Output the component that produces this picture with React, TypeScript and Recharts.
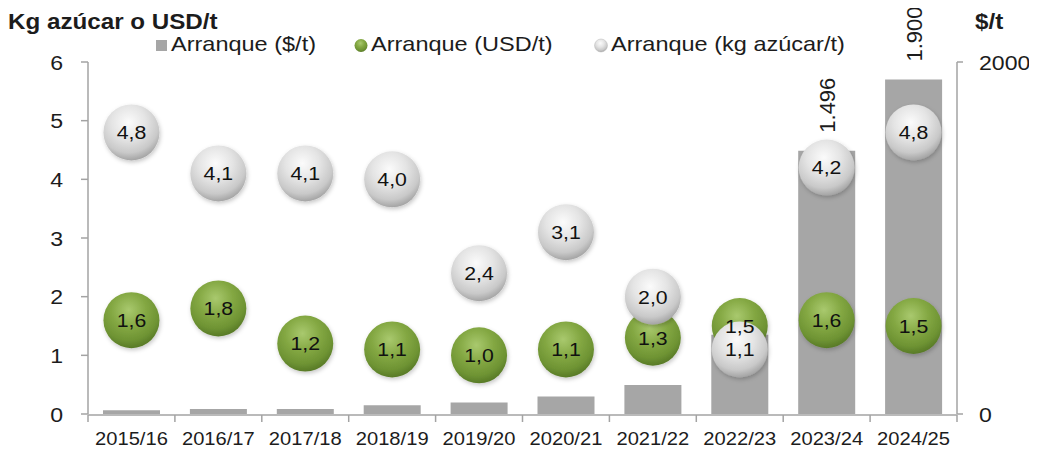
import React from 'react';
import { ComposedChart, Bar, Scatter, XAxis, YAxis, LabelList } from 'recharts';

const categories = ['2015/16', '2016/17', '2017/18', '2018/19', '2019/20', '2020/21', '2021/22', '2022/23', '2023/24', '2024/25'];
const arranquePesos = [22, 28, 28, 50, 65, 99, 165, 450, 1496, 1900];
const arranqueUSD = [1.6, 1.8, 1.2, 1.1, 1.0, 1.1, 1.3, 1.5, 1.6, 1.5];
const arranqueKg = [4.8, 4.1, 4.1, 4.0, 2.4, 3.1, 2.0, 1.1, 4.2, 4.8];
const pesosLabels = ['', '', '', '', '', '', '', '', '1.496', '1.900'];
const leftTicks = [0, 1, 2, 3, 4, 5, 6];
const rightTicks = [0, 2000];
const boundaryTicks = [0, 1, 2, 3, 4, 5, 6, 7, 8, 9, 10];

const data = categories.map((c, i) => ({
  cat: c,
  idx: i + 0.5,
  pesos: arranquePesos[i],
  usd: arranqueUSD[i],
  kg: arranqueKg[i],
}));

const FONT = '"Liberation Sans", Arial, sans-serif';
const AXIS = '#a3a3a3';
const TXT = '#1c1c1c';

const fmt = (v: number) => v.toFixed(1).replace('.', ',');

const XTick = (p: any) => (
  <g transform={`translate(${p.x},${p.y})`}>
    <text x={0} y={0} dy="0.71em" textAnchor="middle" transform="scale(1.12,1)" fontSize={18} fill={TXT} fontFamily={FONT}>
      {p.payload.value}
    </text>
  </g>
);

const LTick = (p: any) => (
  <g transform={`translate(${p.x},${p.y})`}>
    <text x={0} y={0} dy="0.36em" textAnchor="end" transform="scale(1.1,1)" fontSize={21} fill={TXT} fontFamily={FONT}>
      {p.payload.value}
    </text>
  </g>
);

const RTick = (p: any) => (
  <g transform={`translate(${p.x},${p.y})`}>
    <text x={0} y={0} dy="0.36em" textAnchor="start" transform="scale(1.1,1)" fontSize={21} fill={TXT} fontFamily={FONT}>
      {p.payload.value}
    </text>
  </g>
);

const BarLabel = (p: any) => {
  const t = pesosLabels[p.index];
  if (!t) return null;
  const cx = p.x + p.width / 2;
  const cy = p.y - 18;
  return (
    <text x={cx} y={cy} dy="0.36em" textAnchor="start" transform={`rotate(-90 ${cx} ${cy})`} fontSize={22} fill={TXT} fontFamily={FONT}>
      {t}
    </text>
  );
};

const bubble = (grad: string) => (p: any) => {
  if (p.cx == null || p.cy == null) return <g />;
  return (
    <g>
      <circle cx={p.cx} cy={p.cy} r={28} fill={grad} filter="url(#bShadow)" />
    </g>
  );
};

const labelShape = (key: string) => (p: any) => {
  if (p.cx == null || p.cy == null) return <g />;
  const v = p.payload[key];
  return (
    <g transform={`translate(${p.cx},${p.cy})`}>
      <text x={0} y={0} dy="0.36em" textAnchor="middle" transform="scale(1.12,1)" fontSize={19} fill="#111" fontFamily={FONT}>
        {fmt(v)}
      </text>
    </g>
  );
};

export default function App() {
  return (
    <div style={{ position: 'relative', margin: '-8px', width: 1037, height: 453, background: '#fff', fontFamily: FONT }}>
      <svg width={0} height={0} style={{ position: 'absolute' }}>
        <defs>
          <radialGradient id="gGreen" cx="45%" cy="32%" r="68%">
            <stop offset="0%" stopColor="#a9c96e" />
            <stop offset="45%" stopColor="#84a843" />
            <stop offset="80%" stopColor="#6e9333" />
            <stop offset="100%" stopColor="#587a27" />
          </radialGradient>
          <radialGradient id="gSilver" cx="45%" cy="32%" r="68%">
            <stop offset="0%" stopColor="#fbfbfb" />
            <stop offset="45%" stopColor="#e4e4e4" />
            <stop offset="80%" stopColor="#c9c9c9" />
            <stop offset="100%" stopColor="#a4a4a4" />
          </radialGradient>
          <filter id="bShadow" x="-30%" y="-30%" width="160%" height="160%">
            <feDropShadow dx="1" dy="2" stdDeviation="2" floodColor="#000" floodOpacity="0.22" />
          </filter>
        </defs>
      </svg>
      <ComposedChart width={1037} height={453} data={data} margin={{ top: 62, right: 20, bottom: 37, left: 28 }}>
        <XAxis
          xAxisId="grid"
          type="number"
          dataKey="idx"
          domain={[0, 10]}
          allowDataOverflow
          ticks={boundaryTicks}
          interval={0}
          height={1}
          tickSize={7}
          tickFormatter={() => ''}
          axisLine={{ stroke: AXIS, strokeWidth: 1.5 }}
          tickLine={{ stroke: AXIS, strokeWidth: 1.5 }}
        />
        <XAxis
          xAxisId="cat"
          dataKey="cat"
          type="category"
          height={1}
          interval={0}
          axisLine={false}
          tickLine={false}
          tickSize={0}
          tickMargin={18}
          tick={<XTick />}
        />
        <YAxis
          yAxisId="l"
          width={60}
          domain={[0, 6]}
          ticks={leftTicks}
          interval={0}
          tickSize={7}
          tickMargin={18}
          axisLine={{ stroke: AXIS, strokeWidth: 1.5 }}
          tickLine={{ stroke: AXIS, strokeWidth: 1.5 }}
          tick={<LTick />}
        />
        <YAxis
          yAxisId="r"
          orientation="right"
          width={60}
          domain={[0, 2000]}
          ticks={rightTicks}
          interval={0}
          tickSize={6}
          tickMargin={16}
          axisLine={{ stroke: AXIS, strokeWidth: 1.5 }}
          tickLine={{ stroke: AXIS, strokeWidth: 1.5 }}
          tick={<RTick />}
        />
        <Bar xAxisId="cat" yAxisId="r" dataKey="pesos" fill="#a6a6a6" barSize={57} isAnimationActive={false}>
          <LabelList dataKey="pesos" content={<BarLabel />} />
        </Bar>
        <Scatter xAxisId="cat" yAxisId="l" dataKey="usd" shape={bubble('url(#gGreen)')} isAnimationActive={false} />
        <Scatter xAxisId="cat" yAxisId="l" dataKey="kg" shape={bubble('url(#gSilver)')} isAnimationActive={false} />
        <Scatter xAxisId="cat" yAxisId="l" dataKey="usd" shape={labelShape('usd')} isAnimationActive={false} />
        <Scatter xAxisId="cat" yAxisId="l" dataKey="kg" shape={labelShape('kg')} isAnimationActive={false} />
      </ComposedChart>
      <svg width={1037} height={453} style={{ position: 'absolute', left: 0, top: 0, pointerEvents: 'none' }}>
        <text x={8} y={29} transform="translate(8,29) scale(1.1,1) translate(-8,-29)" fontSize={22} fontWeight="bold" fill={TXT} fontFamily={FONT}>
          Kg azúcar o USD/t
        </text>
        <text x={975} y={29} transform="translate(975,29) scale(1.1,1) translate(-975,-29)" fontSize={22} fontWeight="bold" fill={TXT} fontFamily={FONT}>
          $/t
        </text>
        <rect x={156} y={40} width={11} height={11} fill="#a6a6a6" />
        <text x={171} y={51} transform="translate(171,51) scale(1.12,1) translate(-171,-51)" fontSize={21} fill={TXT} fontFamily={FONT}>
          Arranque ($/t)
        </text>
        <circle cx={361} cy={45.5} r={6.5} fill="url(#gGreen)" />
        <text x={371} y={51} transform="translate(371,51) scale(1.12,1) translate(-371,-51)" fontSize={21} fill={TXT} fontFamily={FONT}>
          Arranque (USD/t)
        </text>
        <circle cx={601} cy={45.5} r={6.5} fill="url(#gSilver)" stroke="#bbb" strokeWidth={0.5} />
        <text x={611} y={51} transform="translate(611,51) scale(1.12,1) translate(-611,-51)" fontSize={21} fill={TXT} fontFamily={FONT}>
          Arranque (kg azúcar/t)
        </text>
      </svg>
    </div>
  );
}
